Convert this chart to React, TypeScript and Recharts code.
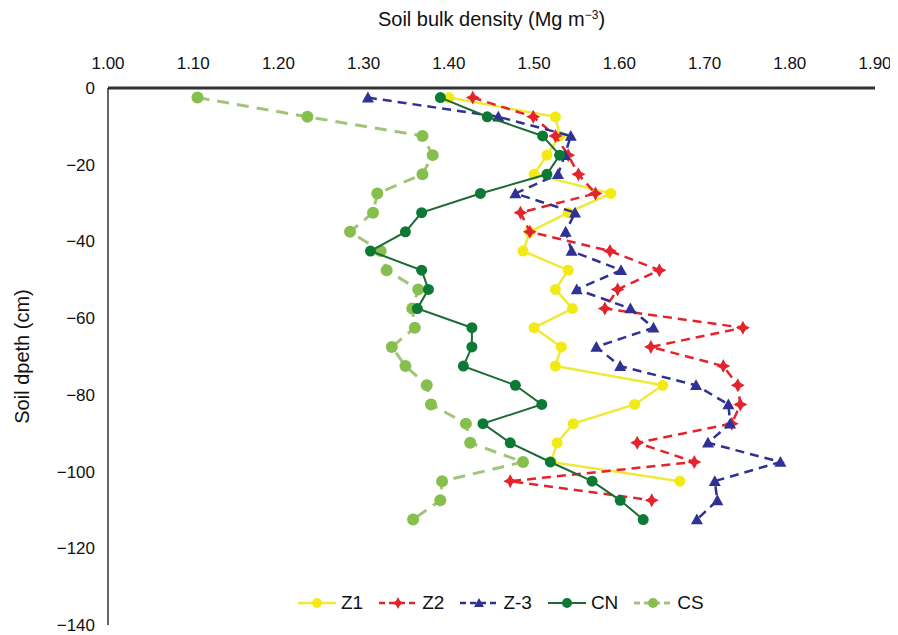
import { ScatterChart, Scatter, XAxis, YAxis, Legend } from "recharts"

// depth of each sampling layer (cm, negative = below surface)
const depths = [
  -2.5, -7.5, -12.5, -17.5, -22.5, -27.5, -32.5, -37.5, -42.5, -47.5, -52.5, -57.5,
  -62.5, -67.5, -72.5, -77.5, -82.5, -87.5, -92.5, -97.5, -102.5, -107.5, -112.5,
]

// bulk density (Mg m-3) per layer
const z1 = [
  1.4, 1.525, 1.53, 1.515, 1.5, 1.59, 1.54, 1.495, 1.487, 1.54, 1.525, 1.545,
  1.5, 1.532, 1.525, 1.651, 1.618, 1.546, 1.527, 1.52, 1.671,
]
const z2 = [
  1.428, 1.499, 1.525, 1.54, 1.552, 1.572, 1.484, 1.495, 1.589, 1.647, 1.598, 1.583,
  1.745, 1.637, 1.722, 1.739, 1.742, 1.732, 1.621, 1.688, 1.472, 1.638,
]
const z3 = [
  1.305, 1.458, 1.543, 1.536, 1.528, 1.478, 1.548, 1.537, 1.544, 1.602, 1.55, 1.613,
  1.64, 1.573, 1.601, 1.69, 1.728, 1.73, 1.704, 1.789, 1.712, 1.715, 1.691,
]
const cn = [
  1.39, 1.445, 1.51, 1.53, 1.515, 1.437, 1.368, 1.349, 1.308, 1.368, 1.376, 1.363,
  1.427, 1.427, 1.417, 1.478, 1.509, 1.44, 1.472, 1.519, 1.568, 1.601, 1.628,
]
const cs = [
  1.105, 1.234, 1.369, 1.381, 1.369, 1.316, 1.311, 1.284, 1.32, 1.327, 1.364, 1.357,
  1.36, 1.333, 1.349, 1.374, 1.379, 1.42, 1.425, 1.487, 1.392, 1.39, 1.358,
]

const xTicks = [1.0, 1.1, 1.2, 1.3, 1.4, 1.5, 1.6, 1.7, 1.8, 1.9]
const yTicks = [0, -20, -40, -60, -80, -100, -120, -140]

const FONT = '"Liberation Sans", Arial, Helvetica, sans-serif'

const toPoints = (vals: number[]) => vals.map((v, i) => ({ x: v, y: depths[i] }))

type MarkerKind = "circle" | "star" | "triangle"

function Marker({ kind, cx, cy, color, r }: { kind: MarkerKind; cx: number; cy: number; color: string; r: number }) {
  if (kind === "triangle") {
    return <polygon points={`${cx},${cy - r} ${cx + r},${cy + r * 0.8} ${cx - r},${cy + r * 0.8}`} fill={color} />
  }
  if (kind === "star") {
    const s = r
    const k = r * 0.35
    return (
      <polygon
        points={`${cx},${cy - s} ${cx + k},${cy - k} ${cx + s},${cy} ${cx + k},${cy + k} ${cx},${cy + s} ${cx - k},${cy + k} ${cx - s},${cy} ${cx - k},${cy - k}`}
        fill={color}
      />
    )
  }
  return <circle cx={cx} cy={cy} r={r} fill={color} />
}

const series = [
  { name: "Z1", data: z1, color: "#f2ea12", line: "#eeea3a", dash: undefined, width: 2.5, kind: "circle" as MarkerKind, r: 5.5 },
  { name: "Z2", data: z2, color: "#e3242c", line: "#e3242c", dash: "9 6", width: 2.5, kind: "star" as MarkerKind, r: 7 },
  { name: "Z-3", data: z3, color: "#2f3194", line: "#2f3194", dash: "9 6", width: 2.5, kind: "triangle" as MarkerKind, r: 6 },
  { name: "CN", data: cn, color: "#0c7a34", line: "#1d6a33", dash: undefined, width: 2, kind: "circle" as MarkerKind, r: 5.5 },
  { name: "CS", data: cs, color: "#86bf4e", line: "#a2c47a", dash: "12 8", width: 3, kind: "circle" as MarkerKind, r: 6 },
]

function LegendRow() {
  return (
    <div style={{ display: "flex", alignItems: "center", fontFamily: FONT, fontSize: 19, color: "#111" }}>
      {series.map((s) => (
        <div key={s.name} style={{ display: "flex", alignItems: "center", marginRight: 16 }}>
          <svg width={38} height={16}>
            <line x1={0} y1={8} x2={38} y2={8} stroke={s.line} strokeWidth={s.width} strokeDasharray={s.dash ? "6 4" : undefined} />
            <Marker kind={s.kind} cx={19} cy={8} color={s.color} r={s.kind === "star" ? 6 : 5} />
          </svg>
          <span style={{ marginLeft: 5 }}>{s.name}</span>
        </div>
      ))}
    </div>
  )
}

function XTitle(props: any) {
  const { viewBox } = props
  const cx = viewBox.x + viewBox.width / 2
  return (
    <text x={cx} y={viewBox.y + 18} textAnchor="middle" fontFamily={FONT} fontSize={20} fill="#111">
      Soil bulk density (Mg m
      <tspan dy={-7} fontSize={12}>−3</tspan>
      <tspan dy={7}>)</tspan>
    </text>
  )
}

const fmtY = (v: number) => (v < 0 ? "−" + Math.abs(v) : String(v))

export default function App() {
  const order = [4, 0, 1, 2, 3]
  return (
    <div style={{ position: "relative", width: 890, height: 627 }}>
      <ScatterChart width={890} height={627} margin={{ top: 0, right: 23, bottom: 10, left: 0 }}>
        <XAxis
          type="number"
          dataKey="x"
          orientation="top"
          domain={[1, 1.9]}
          ticks={xTicks}
          tickFormatter={(v: number) => v.toFixed(2)}
          height={80}
          tickLine={false}
          tickSize={0}
          tickMargin={19}
          axisLine={{ stroke: "#333", strokeWidth: 3 }}
          tick={{ fill: "#111", fontSize: 17, fontFamily: FONT }}
          label={<XTitle />}
          interval={0}
        />
        <YAxis
          type="number"
          dataKey="y"
          domain={[-140, 0]}
          ticks={yTicks}
          tickFormatter={fmtY}
          width={100}
          tickLine={false}
          tickSize={0}
          tickMargin={13}
          axisLine={{ stroke: "#111", strokeWidth: 1.3 }}
          tick={{ fill: "#111", fontSize: 17, fontFamily: FONT }}
          label={{
            value: "Soil dpeth (cm)",
            angle: -90,
            position: "insideLeft",
            offset: 14,
            style: { textAnchor: "middle", fontFamily: FONT, fontSize: 20, fill: "#111" },
          }}
          interval={0}
        />
        {order.map((idx) => {
          const s = series[idx]
          return (
            <Scatter
              key={s.name}
              name={s.name}
              data={toPoints(s.data)}
              isAnimationActive={false}
              line={{ stroke: s.line, strokeWidth: s.width, strokeDasharray: s.dash }}
              lineType="joint"
              shape={(p: any) => <Marker kind={s.kind} cx={p.cx} cy={p.cy} color={s.color} r={s.r} />}
            />
          )
        })}
        <Legend
          layout="vertical"
          align="center"
          verticalAlign="middle"
          content={() => <LegendRow />}
          wrapperStyle={{ left: 290, top: 584, width: 440 }}
        />
      </ScatterChart>
    </div>
  )
}
